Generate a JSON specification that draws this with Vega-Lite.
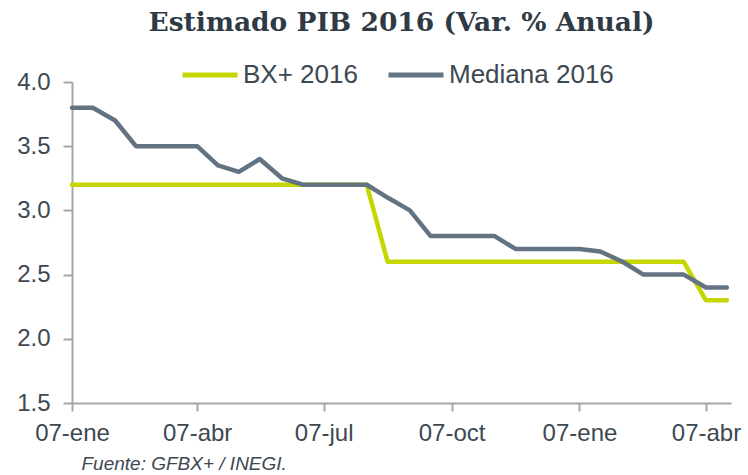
{
  "$schema": "https://vega.github.io/schema/vega-lite/v6.json",
  "autosize": "none",
  "padding": {"left": 72, "top": 82, "right": 17, "bottom": 72},
  "width": 659,
  "height": 321,
  "background": "white",
  "title": {
    "text": "Estimado PIB 2016 (Var. % Anual)",
    "font": "DejaVu Serif",
    "fontSize": 26.5,
    "fontWeight": "bold",
    "color": "#2f3a45",
    "anchor": "middle",
    "offset": 9
  },
  "data": {
    "values": [
      {"date": "2015-01-07T00:00:00", "bx": 3.2, "med": 3.8},
      {"date": "2015-01-22T00:00:00", "bx": 3.2, "med": 3.8},
      {"date": "2015-02-07T00:00:00", "bx": 3.2, "med": 3.7},
      {"date": "2015-02-22T00:00:00", "bx": 3.2, "med": 3.5},
      {"date": "2015-03-07T00:00:00", "bx": 3.2, "med": 3.5},
      {"date": "2015-03-22T00:00:00", "bx": 3.2, "med": 3.5},
      {"date": "2015-04-07T00:00:00", "bx": 3.2, "med": 3.5},
      {"date": "2015-04-22T00:00:00", "bx": 3.2, "med": 3.35},
      {"date": "2015-05-07T00:00:00", "bx": 3.2, "med": 3.3},
      {"date": "2015-05-22T00:00:00", "bx": 3.2, "med": 3.4},
      {"date": "2015-06-07T00:00:00", "bx": 3.2, "med": 3.25},
      {"date": "2015-06-22T00:00:00", "bx": 3.2, "med": 3.2},
      {"date": "2015-07-07T00:00:00", "bx": 3.2, "med": 3.2},
      {"date": "2015-07-22T00:00:00", "bx": 3.2, "med": 3.2},
      {"date": "2015-08-07T00:00:00", "bx": 3.2, "med": 3.2},
      {"date": "2015-08-22T00:00:00", "bx": 2.6, "med": 3.1},
      {"date": "2015-09-07T00:00:00", "bx": 2.6, "med": 3.0},
      {"date": "2015-09-22T00:00:00", "bx": 2.6, "med": 2.8},
      {"date": "2015-10-07T00:00:00", "bx": 2.6, "med": 2.8},
      {"date": "2015-10-22T00:00:00", "bx": 2.6, "med": 2.8},
      {"date": "2015-11-07T00:00:00", "bx": 2.6, "med": 2.8},
      {"date": "2015-11-22T00:00:00", "bx": 2.6, "med": 2.7},
      {"date": "2015-12-07T00:00:00", "bx": 2.6, "med": 2.7},
      {"date": "2015-12-22T00:00:00", "bx": 2.6, "med": 2.7},
      {"date": "2016-01-07T00:00:00", "bx": 2.6, "med": 2.7},
      {"date": "2016-01-22T00:00:00", "bx": 2.6, "med": 2.68},
      {"date": "2016-02-07T00:00:00", "bx": 2.6, "med": 2.6},
      {"date": "2016-02-22T00:00:00", "bx": 2.6, "med": 2.5},
      {"date": "2016-03-07T00:00:00", "bx": 2.6, "med": 2.5},
      {"date": "2016-03-22T00:00:00", "bx": 2.6, "med": 2.5},
      {"date": "2016-04-07T00:00:00", "bx": 2.3, "med": 2.4},
      {"date": "2016-04-22T00:00:00", "bx": 2.3, "med": 2.4}
    ]
  },
  "transform": [
    {"fold": ["bx", "med"], "as": ["key", "value"]},
    {"lookup": "key", "from": {"data": {"values": [{"key": "bx", "series": "BX+ 2016"}, {"key": "med", "series": "Mediana 2016"}]}, "key": "key", "fields": ["series"]}}
  ],
  "mark": {"type": "line", "strokeWidth": 4.5, "strokeCap": "round", "strokeJoin": "round"},
  "encoding": {
    "x": {
      "field": "date",
      "type": "temporal",
      "scale": {"domain": [{"year": 2015, "month": 1, "date": 7}, {"year": 2016, "month": 4, "date": 25}]},
      "axis": {
        "values": [
          {"year": 2015, "month": 1, "date": 7},
          {"year": 2015, "month": 4, "date": 7},
          {"year": 2015, "month": 7, "date": 7},
          {"year": 2015, "month": 10, "date": 7},
          {"year": 2016, "month": 1, "date": 7},
          {"year": 2016, "month": 4, "date": 7}
        ],
        "labelExpr": "timeFormat(datum.value, '%d') + '-' + ['ene','feb','mar','abr','may','jun','jul','ago','sep','oct','nov','dic'][month(datum.value)]",
        "grid": false,
        "tickSize": 8,
        "labelPadding": 10,
        "labelFont": "Liberation Sans",
        "labelFontSize": 24,
        "labelColor": "#3d4852",
        "labelOverlap": false,
        "labelFlush": false,
        "domainColor": "#a6a6a6",
        "domainWidth": 2,
        "tickColor": "#a6a6a6",
        "tickWidth": 2,
        "title": "Fuente: GFBX+ / INEGI.",
        "titleFont": "Liberation Sans",
        "titleFontSize": 19,
        "titleFontStyle": "italic",
        "titleFontWeight": "normal",
        "titleColor": "#3d4852",
        "titleAnchor": "start",
        "titleAlign": "left",
        "titleBaseline": "alphabetic",
        "titleX": 9,
        "titleY": 66
      }
    },
    "y": {
      "field": "value",
      "type": "quantitative",
      "scale": {"domain": [1.5, 4.0], "nice": false, "zero": false},
      "axis": {
        "values": [1.5, 2.0, 2.5, 3.0, 3.5, 4.0],
        "format": ".1f",
        "grid": false,
        "tickSize": 9,
        "labelPadding": 13,
        "labelFont": "Liberation Sans",
        "labelFontSize": 24,
        "labelColor": "#3d4852",
        "domainColor": "#a6a6a6",
        "domainWidth": 2,
        "tickColor": "#a6a6a6",
        "tickWidth": 2,
        "title": null
      }
    },
    "color": {
      "field": "series",
      "type": "nominal",
      "scale": {"domain": ["BX+ 2016", "Mediana 2016"], "range": ["#c5d600", "#637381"]},
      "legend": {
        "title": null,
        "orient": "none",
        "direction": "horizontal",
        "legendX": 108,
        "legendY": -37,
        "symbolType": "stroke",
        "symbolSize": 3025,
        "symbolStrokeWidth": 5,
        "labelFont": "Liberation Sans",
        "labelFontSize": 26,
        "labelColor": "#3d4852",
        "labelOffset": 3,
        "labelLimit": 400,
        "columnPadding": 20
      }
    }
  },
  "config": {"view": {"stroke": null}}
}
